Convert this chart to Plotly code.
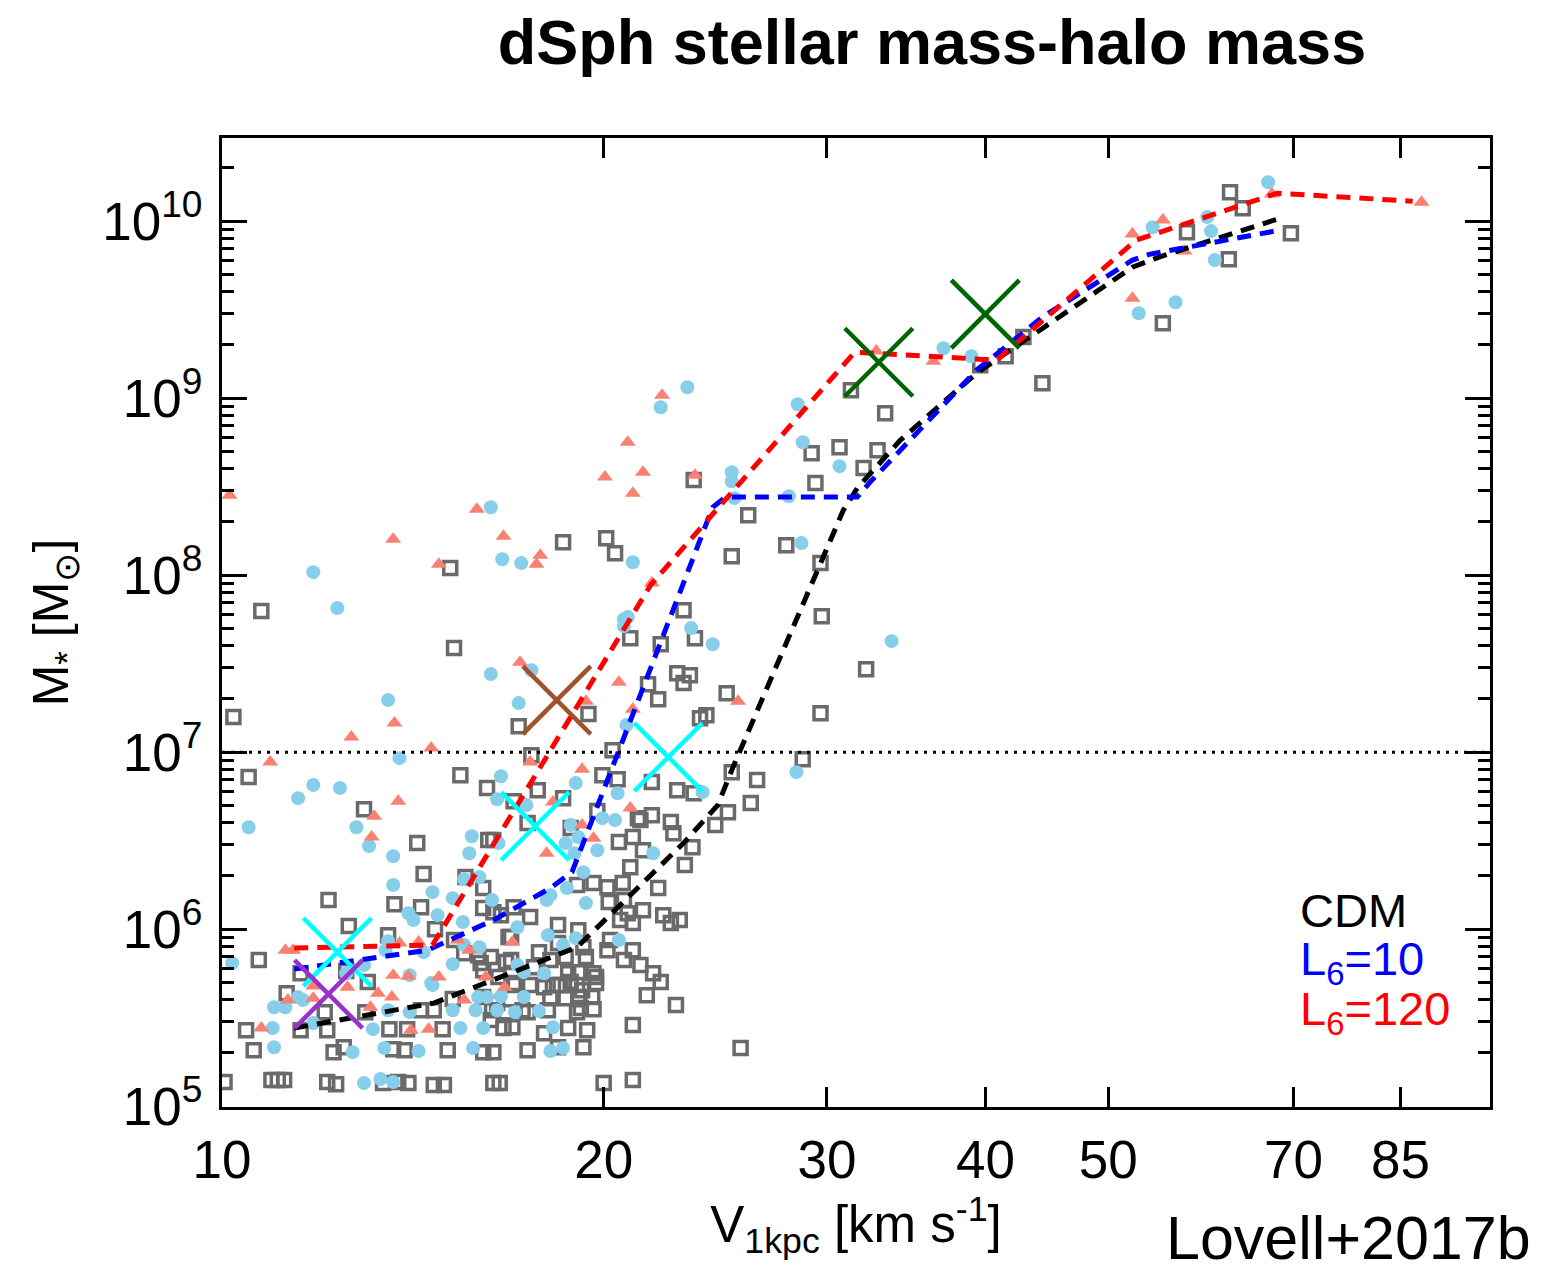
import plotly.graph_objects as go

# ---------------- data (log10 V_1kpc [km/s], log10 M* [Msun]) ----------------
cdm_log_v = [
    1.496, 1.523, 1.465, 1.487, 1.517, 1.506, 1.468, 1.372, 1.415, 1.598, 1.618, 1.632, 1.647,
    1.761, 1.795, 1.805, 1.843, 1.794, 1.742, 1.031, 1.180, 1.183, 1.269, 1.303, 1.310, 1.445,
    1.402, 1.472, 1.364, 1.322, 1.346, 1.373, 1.473, 1.508, 1.359, 1.369, 1.364, 1.336, 1.344,
    1.009, 1.021, 1.188, 1.209, 1.112, 1.234, 1.289, 1.244, 1.249, 1.269, 1.308, 1.300, 1.312,
    1.296, 1.328, 1.324, 1.313, 1.230, 1.241, 1.275, 1.214, 1.154, 1.472, 1.398, 1.382, 1.377,
    1.458, 1.402, 1.422, 1.339, 1.359, 1.372, 1.417, 1.399, 1.389, 1.354, 1.339, 1.330, 1.371,
    1.159, 1.210, 1.356, 1.332, 1.365, 1.344, 1.322, 1.316, 1.304, 1.293, 1.280, 1.305, 1.320,
    1.332, 1.348, 1.361, 1.354, 1.324, 1.314, 1.306, 1.324, 1.317, 1.330, 1.340, 1.346, 1.335,
    1.358, 1.324, 1.265, 1.281, 1.243, 1.226, 1.250, 1.259, 1.271, 1.287, 1.285, 1.273, 1.281,
    1.293, 1.280, 1.295, 1.267, 1.254, 1.243, 1.231, 1.259, 1.271, 1.281, 1.292, 1.283, 1.293,
    1.257, 1.237, 1.217, 1.206, 1.212, 1.229, 1.222, 1.254, 1.273, 1.288, 1.285, 1.265, 1.241,
    1.214, 1.214, 1.219, 1.301, 1.324, 1.409, 1.206, 1.206, 1.214, 1.230, 1.202, 1.206, 1.224,
    1.084, 1.136, 1.157, 1.192, 1.100, 1.131, 1.168, 1.191, 1.204, 1.212, 1.029, 1.062, 1.098,
    1.115, 1.051, 1.081, 1.062, 1.083, 1.113, 1.132, 1.146, 1.157, 1.167, 1.174, 1.182, 1.019,
    1.025, 1.096, 1.088, 1.135, 1.144, 1.178, 1.206, 1.002, 1.039, 1.044, 1.049, 1.083, 1.090,
    1.127, 1.139, 1.147, 1.167, 1.175, 1.220, 1.228, 1.265, 1.228, 1.246, 1.183, 1.218, 1.230,
    1.261, 1.275, 1.213, 1.224, 1.241, 1.317, 1.304, 1.295, 1.284, 1.280,
]
cdm_log_mstar = [
    9.045, 8.915, 8.689, 8.723, 8.706, 8.605, 8.520, 8.537, 8.339, 9.186, 9.237, 9.345, 9.085,
    9.938, 10.164, 10.073, 9.932, 9.785, 9.424, 7.797, 8.040, 7.588, 8.186, 8.209, 8.124, 8.169,
    8.107, 8.068, 7.802, 7.644, 7.610, 7.644, 7.768, 7.469, 7.446, 7.435, 7.390, 7.384, 7.299,
    7.198, 6.859, 6.870, 6.797, 6.678, 7.147, 7.215, 6.983, 6.785, 6.740, 7.011, 6.870, 6.847,
    6.667, 6.627, 6.520, 6.492, 6.723, 6.599, 6.571, 6.503, 6.486, 7.220, 7.333, 7.209, 7.192,
    6.960, 6.887, 6.842, 6.831, 6.785, 6.768, 6.712, 6.661, 6.588, 6.605, 6.644, 6.616, 6.463,
    6.311, 6.503, 6.542, 6.446, 6.362, 6.232, 6.350, 6.260, 6.237, 6.260, 6.249, 6.153, 6.090,
    6.107, 6.079, 6.051, 6.034, 6.034, 6.051, 5.938, 5.881, 5.825, 5.797, 5.751, 5.701, 5.627,
    5.571, 5.458, 6.023, 5.994, 6.068, 5.955, 5.870, 5.825, 5.842, 5.842, 5.898, 5.751, 5.757,
    5.751, 5.684, 5.695, 5.684, 5.672, 5.684, 5.684, 5.610, 5.610, 5.616, 5.616, 5.554, 5.548,
    5.542, 5.542, 5.582, 5.616, 5.486, 5.446, 5.441, 5.412, 5.441, 5.429, 5.333, 5.333, 5.316,
    5.305, 5.130, 5.130, 5.130, 5.147, 5.328, 6.232, 6.119, 6.096, 6.124, 5.853, 5.768, 5.814,
    6.164, 6.141, 6.124, 6.294, 6.017, 5.966, 6.000, 5.864, 5.808, 5.842, 5.825, 5.751, 5.763,
    5.701, 5.638, 5.531, 5.429, 5.429, 5.531, 5.435, 5.435, 5.542, 5.542, 5.435, 5.605, 5.429,
    5.316, 5.333, 5.305, 5.322, 5.316, 5.316, 5.305, 5.136, 5.147, 5.147, 5.147, 5.136, 5.124,
    5.130, 5.136, 5.130, 5.119, 5.119, 6.079, 5.955, 5.921, 5.825, 5.785, 5.938, 5.729, 5.695,
    5.684, 5.701, 5.542, 5.531, 5.531, 6.164, 5.881, 5.729, 5.655, 5.531,
]

l10_log_v = [
    1.825, 1.734, 1.777, 1.780, 1.783, 1.723, 1.752, 1.367, 1.346, 1.454, 1.458, 1.487, 1.402,
    1.402, 1.404, 1.447, 1.569, 1.591, 1.212, 1.221, 1.236, 1.324, 1.072, 1.091, 1.317, 1.320,
    1.317, 1.212, 1.244, 1.131, 1.234, 1.319, 1.140, 1.220, 1.072, 1.060, 1.093, 1.021, 1.106,
    1.279, 1.217, 1.240, 1.312, 1.300, 1.310, 1.275, 1.281, 1.197, 1.457, 1.370, 1.387, 1.528,
    1.453, 1.379, 1.116, 1.135, 1.135, 1.195, 1.191, 1.203, 1.166, 1.182, 1.213, 1.147, 1.151,
    1.170, 1.190, 1.131, 1.129, 1.159, 1.191, 1.203, 1.008, 1.182, 1.098, 1.112, 1.148, 1.165,
    1.041, 1.050, 1.060, 1.064, 1.040, 1.072, 1.041, 1.119, 1.131, 1.148, 1.182, 1.188, 1.200,
    1.206, 1.202, 1.209, 1.103, 1.128, 1.155, 1.198, 1.112, 1.125, 1.135, 1.218, 1.271, 1.278,
    1.296, 1.285, 1.272, 1.256, 1.259, 1.287, 1.233, 1.257, 1.269, 1.279, 1.313, 1.340, 1.233,
    1.238, 1.254, 1.220, 1.238, 1.217, 1.231, 1.250, 1.261, 1.259, 1.269, 1.166,
]
l10_log_mstar = [
    10.220, 9.966, 10.023, 9.944, 9.780, 9.480, 9.542, 9.062, 8.949, 8.966, 8.751, 8.616, 8.582,
    8.531, 8.435, 8.446, 9.282, 9.237, 8.384, 8.090, 8.068, 8.073, 8.017, 7.814, 7.751, 7.763,
    7.712, 7.441, 7.463, 7.294, 7.277, 7.153, 6.966, 6.864, 6.814, 6.740, 6.797, 6.576, 6.576,
    6.825, 6.734, 6.701, 6.768, 6.627, 6.616, 6.588, 6.520, 6.525, 8.181, 7.701, 7.610, 7.627,
    6.887, 6.774, 6.469, 6.412, 6.249, 6.429, 6.282, 6.294, 6.209, 6.175, 6.164, 6.090, 6.051,
    6.079, 6.040, 5.932, 5.881, 5.870, 5.910, 5.898, 5.808, 5.802, 5.751, 5.797, 5.740, 5.695,
    5.559, 5.559, 5.616, 5.599, 5.441, 5.469, 5.333, 5.435, 5.542, 5.531, 5.542, 5.441, 5.542,
    5.441, 5.616, 5.616, 5.305, 5.328, 5.311, 5.328, 5.130, 5.153, 5.136, 6.486, 6.486, 6.429,
    6.446, 6.322, 6.232, 6.164, 6.192, 6.147, 6.011, 5.966, 5.910, 5.949, 5.938, 6.429, 5.797,
    5.757, 5.751, 5.621, 5.616, 5.542, 5.531, 5.537, 5.446, 5.311, 5.328, 5.684,
]

l120_log_v = [
    1.006, 1.347, 1.320, 1.302, 1.332, 1.324, 1.373, 1.201, 1.222, 1.251, 1.248, 1.171, 1.135,
    1.235, 1.287, 1.313, 1.324, 1.136, 1.102, 1.165, 1.038, 1.243, 1.284, 1.139, 1.120, 1.118,
    1.261, 1.284, 1.293, 1.322, 1.339, 1.407, 1.516, 1.561, 1.718, 1.742, 1.759, 1.828, 1.946,
    1.718, 1.050, 1.056, 1.031, 1.052, 1.072, 1.072, 1.099, 1.140, 1.155, 1.135, 1.147, 1.171,
    1.123, 1.134, 1.186, 1.195, 1.117, 1.149, 1.163, 1.191, 1.208, 1.256, 1.229, 1.223,
]
l120_log_mstar = [
    8.452, 9.017, 8.751, 8.554, 8.582, 8.463, 8.565, 8.373, 8.220, 8.113, 8.062, 8.062, 8.203,
    7.508, 7.288, 7.395, 7.243, 7.164, 7.085, 7.023, 6.944, 6.944, 6.904, 6.723, 6.638, 6.520,
    6.718, 6.588, 6.514, 6.684, 7.955, 7.288, 9.266, 9.209, 9.927, 10.006, 9.831, 10.153, 10.107,
    9.565, 5.881, 5.881, 5.441, 5.599, 5.610, 5.678, 5.672, 5.921, 5.927, 5.740, 5.734, 5.729,
    5.638, 5.616, 5.938, 5.881, 5.559, 5.429, 5.435, 5.599, 5.729, 6.429, 5.927, 5.672,
]

# running medians
cdm_med_log_v = [1.057, 1.167, 1.280, 1.296, 1.364, 1.391, 1.403, 1.490, 1.501, 1.535, 1.595,
                 1.718, 1.739, 1.832]
cdm_med_log_mstar = [5.441, 5.582, 5.898, 6.011, 6.486, 6.701, 6.915, 8.367, 8.492, 8.763, 9.141,
                     9.740, 9.797, 10.011]
l10_med_log_v = [1.057, 1.162, 1.214, 1.259, 1.276, 1.387, 1.397, 1.501, 1.511, 1.595, 1.647,
                 1.718, 1.732, 1.834]
l10_med_log_mstar = [5.774, 5.881, 6.051, 6.232, 6.322, 8.384, 8.441, 8.441, 8.525, 9.158, 9.458,
                     9.780, 9.814, 9.949]
l120_med_log_v = [1.057, 1.166, 1.338, 1.499, 1.611, 1.721, 1.832, 1.939]
l120_med_log_mstar = [5.893, 5.910, 7.944, 9.260, 9.215, 9.893, 10.158, 10.113]

# observed dwarfs (crosses)
obs_log_v = [1.091, 1.247, 1.352, 1.084, 1.264, 1.518, 1.602]
obs_log_mstar = [5.870, 6.582, 6.972, 5.633, 7.294, 9.203, 9.475]
obs_colors = ["#00FFFF", "#00FFFF", "#00FFFF", "#9932CC", "#A0522D", "#006400", "#006400"]

mstar_threshold = 1e7
x_tick_vals = [10, 20, 30, 40, 50, 70, 85]
x_tick_text = ["10", "20", "30", "40", "50", "70", "85"]
y_tick_vals = [1e5, 1e6, 1e7, 1e8, 1e9, 1e10]
y_tick_text = ["10<sup>5</sup>", "10<sup>6</sup>", "10<sup>7</sup>", "10<sup>8</sup>",
               "10<sup>9</sup>", "10<sup>10</sup>"]


def unlog(a):
    return [10 ** v for v in a]


FONT = "Liberation Sans, Arial, Helvetica, sans-serif"

fig = go.Figure()

fig.add_trace(go.Scatter(
    x=unlog(cdm_log_v), y=unlog(cdm_log_mstar), mode="markers", name="CDM",
    marker=dict(symbol="square-open", size=13, color="#6a6a6a", line=dict(width=3.5, color="#6a6a6a")),
))
fig.add_trace(go.Scatter(
    x=unlog(l10_log_v), y=unlog(l10_log_mstar), mode="markers", name="L6=10",
    marker=dict(symbol="circle", size=14, color="#87CEEB", line=dict(width=0)),
))
fig.add_trace(go.Scatter(
    x=unlog(l120_log_v), y=unlog(l120_log_mstar), mode="markers", name="L6=120",
    marker=dict(symbol="triangle-up", size=14, color="#FA8072", line=dict(width=0)),
))

for lv, lm, col in [(cdm_med_log_v, cdm_med_log_mstar, "black"),
                    (l10_med_log_v, l10_med_log_mstar, "blue"),
                    (l120_med_log_v, l120_med_log_mstar, "red")]:
    fig.add_trace(go.Scatter(
        x=unlog(lv), y=unlog(lm), mode="lines",
        line=dict(color=col, width=5, dash="14px,9px"),
    ))

fig.add_trace(go.Scatter(
    x=[10, 100], y=[mstar_threshold, mstar_threshold], mode="lines",
    line=dict(color="black", width=3, dash="3px,6px"),
))

fig.add_trace(go.Scatter(
    x=unlog(obs_log_v), y=unlog(obs_log_mstar), mode="markers",
    marker=dict(symbol="x-thin", size=68, color=obs_colors,
                line=dict(width=4.5, color=obs_colors)),
))

minor_y = [k * 10 ** n for n in range(5, 11) for k in range(2, 10) if k * 10 ** n < 3e10]

fig.update_layout(
    width=1563, height=1274,
    margin=dict(l=222, r=73, t=138, b=167),
    paper_bgcolor="white", plot_bgcolor="white",
    showlegend=False,
    font=dict(family=FONT, color="black"),
    title=dict(text="<b>dSph stellar mass-halo mass</b>", font=dict(size=63, family=FONT),
               x=(932 - 222) / 1268.0, xref="paper", xanchor="center",
               y=1 - 42 / 1274.0, yref="container", yanchor="middle"),
    xaxis=dict(
        type="log", range=[1, 2], tickmode="array", tickvals=x_tick_vals, ticktext=x_tick_text,
        ticks="inside", ticklen=20, tickwidth=2.5, tickcolor="black",
        showline=True, linewidth=3, linecolor="black", mirror="ticks",
        showgrid=False, zeroline=False, tickfont=dict(size=53),
        ticklabelstandoff=4,
        title=dict(text="V<sub>1kpc</sub> [km s<sup>-1</sup>]", font=dict(size=51), standoff=4),
    ),
    yaxis=dict(
        type="log", range=[4.995, 10.47], tickmode="array", tickvals=y_tick_vals, ticktext=y_tick_text,
        ticks="inside", ticklen=25, tickwidth=2.5, tickcolor="black",
        showline=True, linewidth=3, linecolor="black", mirror="ticks",
        showgrid=False, zeroline=False, tickfont=dict(size=53),
        ticklabelstandoff=6,
        minor=dict(tickmode="array", tickvals=minor_y, ticks="inside", ticklen=12,
                   tickwidth=2.5, tickcolor="black", showgrid=False),
        title=dict(text="M<sub>*</sub> [M<sub>⊙</sub>]", font=dict(size=50), standoff=18),
    ),
)


# legend-like labels and credit (paper coordinates)
def px_to_paper_x(px):
    return (px - 222) / 1268.0


def px_to_paper_y(py):
    return (1107 - py) / 969.0


for txt, col, py in [("CDM", "black", 910), ("L<sub>6</sub>=10", "blue", 962),
                     ("L<sub>6</sub>=120", "red", 1012)]:
    fig.add_annotation(text=txt, x=px_to_paper_x(1298), y=px_to_paper_y(py), xref="paper", yref="paper",
                       showarrow=False, xanchor="left", yanchor="middle",
                       font=dict(size=47, color=col, family=FONT))
fig.add_annotation(text="Lovell+2017b", x=px_to_paper_x(1532), y=px_to_paper_y(1273),
                   xref="paper", yref="paper", showarrow=False, xanchor="right", yanchor="bottom",
                   borderpad=0, font=dict(size=61, color="black", family=FONT))

fig.write_html("out.html")
